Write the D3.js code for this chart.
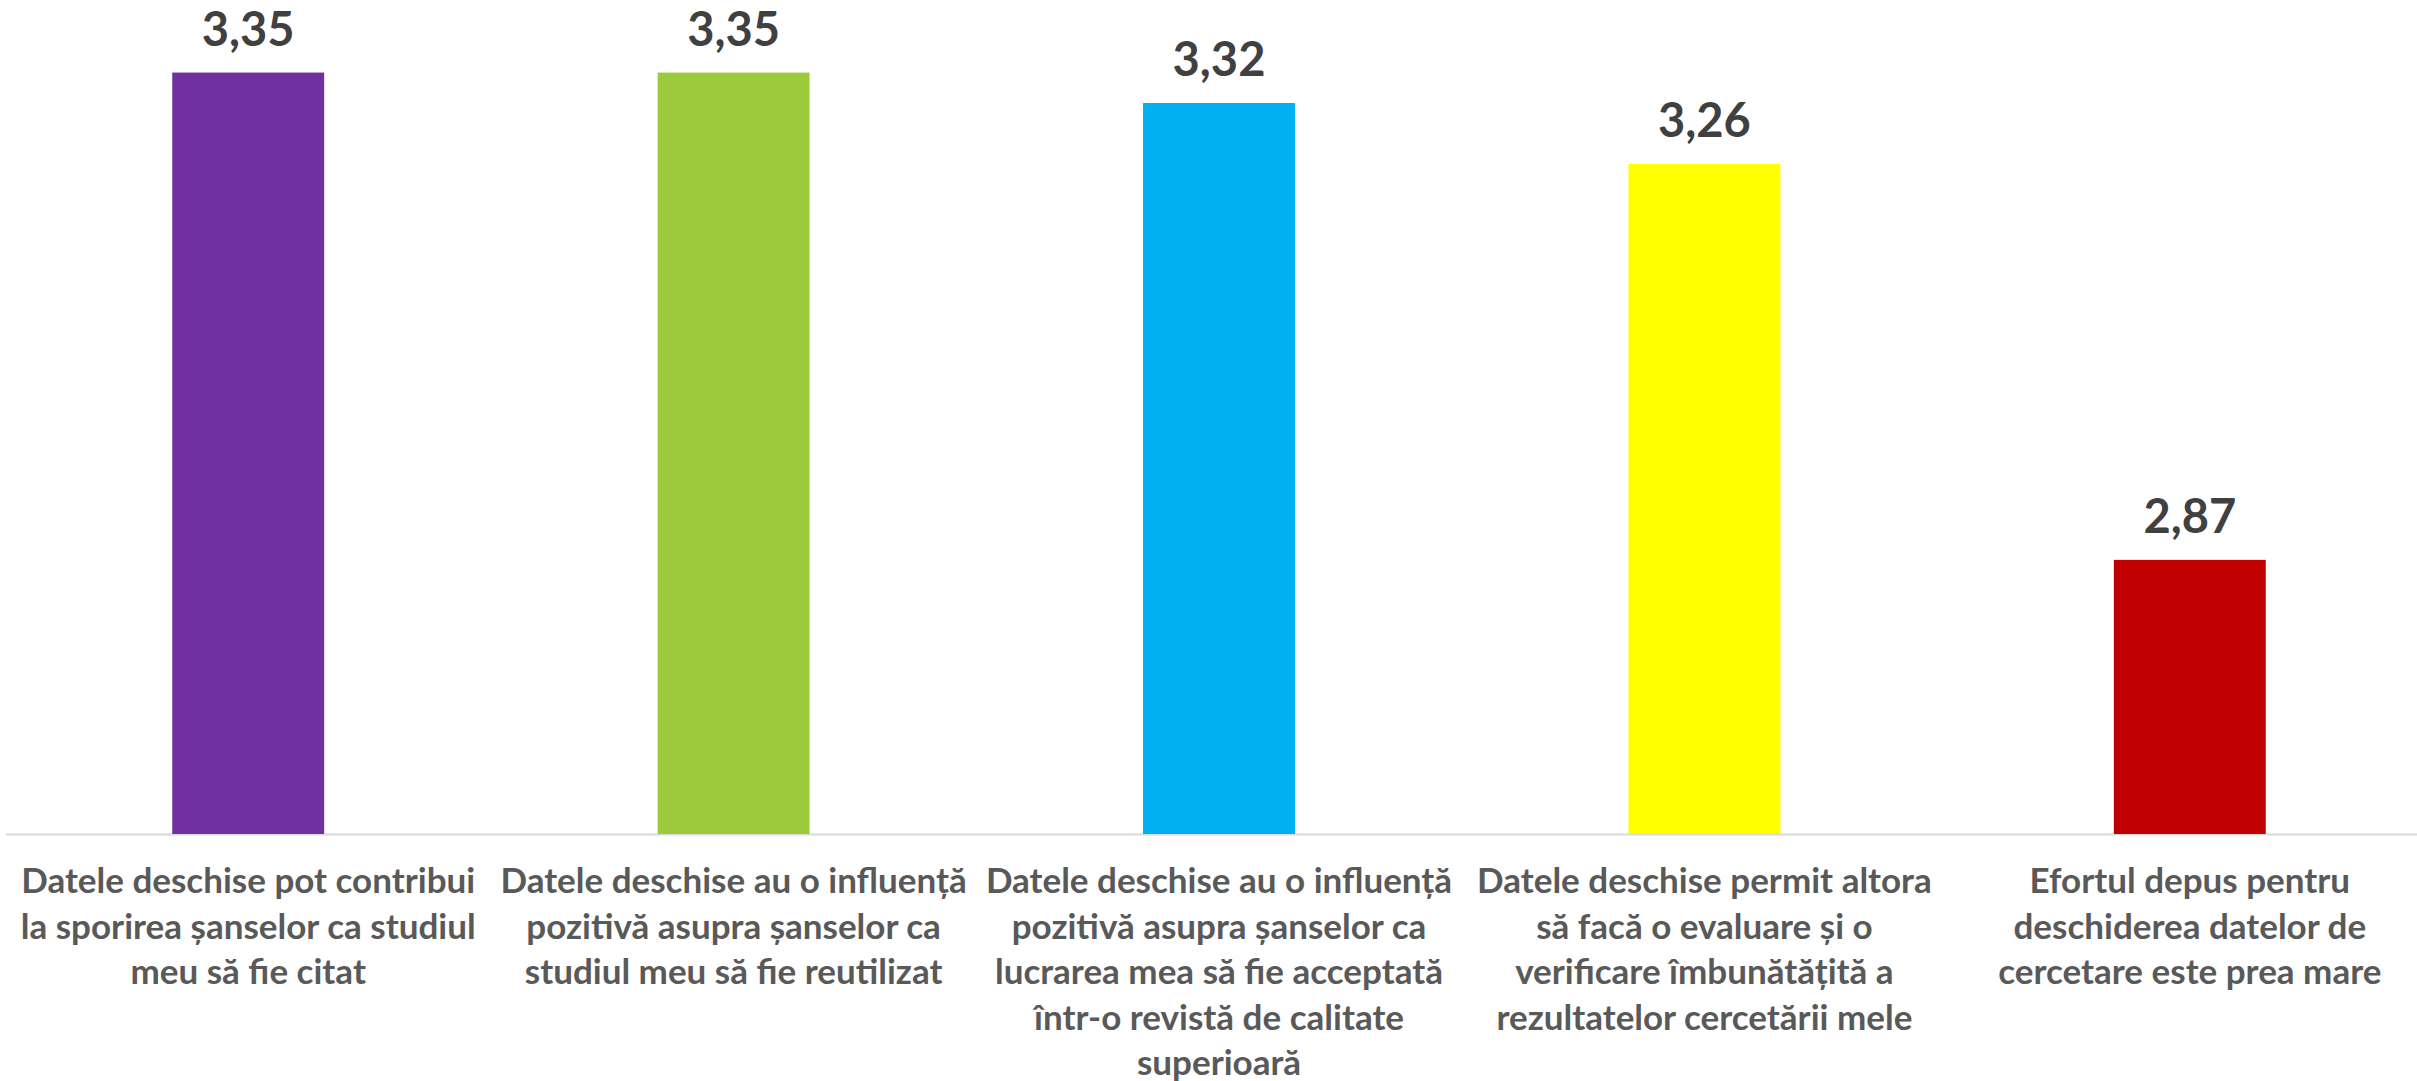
<!DOCTYPE html>
<html>
<head>
<meta charset="utf-8">
<script src="https://cdn.jsdelivr.net/npm/d3@7"></script>
<style>
  body { margin: 0; background: #fff; }
  svg { display: block; }
</style>
</head>
<body>
<div id="chart-area"></div>
<script>
const WIDTH = 2417;
const HEIGHT = 1081;

// data
const categories = ["c1", "c2", "c3", "c4", "c5"];
const values = [3.35, 3.35, 3.32, 3.26, 2.87];
const valueLabels = ["3,35", "3,35", "3,32", "3,26", "2,87"];
const colors = ["#7030A0", "#9BCB3B", "#00B0F0", "#FFFF00", "#C00000"];
const categoryLines = [
  ["Datele deschise pot contribui", "la sporirea șanselor ca studiul", "meu să fie citat"],
  ["Datele deschise au o influență", "pozitivă asupra șanselor ca", "studiul meu să fie reutilizat"],
  ["Datele deschise au o influență", "pozitivă asupra șanselor ca", "lucrarea mea să fie acceptată", "într-o revistă de calitate", "superioară"],
  ["Datele deschise permit altora", "să facă o evaluare și o", "verificare îmbunătățită a", "rezultatelor cercetării mele"],
  ["Efortul depus pentru", "deschiderea datelor de", "cercetare este prea mare"]
];
const yDomain = [2.6, 3.4];

const svg = d3
  .select("#chart-area")
  .append("svg")
  .attr("width", WIDTH)
  .attr("height", HEIGHT);

// scales
const x = d3
  .scaleBand()
  .domain(categories)
  .range([5.5, 2432.5])
  .paddingInner(0.687)
  .paddingOuter(0.3435);

const y = d3.scaleLinear().domain(yDomain).range([834, 21.8]);

// baseline axis
const xAxis = svg
  .append("g")
  .attr("transform", `translate(0, ${y(yDomain[0])})`)
  .call(d3.axisBottom(x).tickSize(0).tickFormat(""));
xAxis.select(".domain").attr("stroke", "#d9d9d9").attr("stroke-width", 2);

// bars
svg
  .selectAll(".bar")
  .data(values)
  .enter()
  .append("rect")
  .attr("class", "bar")
  .attr("x", (d, i) => x(categories[i]))
  .attr("width", x.bandwidth())
  .attr("y", (d) => y(d))
  .attr("height", (d) => y(yDomain[0]) - y(d))
  .attr("fill", (d, i) => colors[i]);

// value labels
svg
  .selectAll(".value")
  .data(values)
  .enter()
  .append("text")
  .attr("class", "value")
  .attr("x", (d, i) => x(categories[i]) + x.bandwidth() / 2)
  .attr("y", (d) => y(d) - 27)
  .attr("text-anchor", "middle")
  .attr("font-family", "Lato, 'Open Sans', sans-serif")
  .attr("font-weight", "bold")
  .attr("font-size", "47px")
  .attr("fill", "#404040")
  .text((d, i) => valueLabels[i]);

// category labels
const catLabel = svg
  .selectAll(".cat")
  .data(categoryLines)
  .enter()
  .append("text")
  .attr("class", "cat")
  .attr("text-anchor", "middle")
  .attr("font-family", "Lato, 'Open Sans', sans-serif")
  .attr("font-weight", "bold")
  .attr("font-size", "35px")
  .attr("fill", "#595959");

catLabel
  .selectAll("tspan")
  .data((d, i) => d.map((line) => ({ line, i })))
  .enter()
  .append("tspan")
  .attr("x", (d) => x(categories[d.i]) + x.bandwidth() / 2)
  .attr("y", (d, j) => 893 + j * 45.5)
  .text((d) => d.line);
</script>
</body>
</html>
